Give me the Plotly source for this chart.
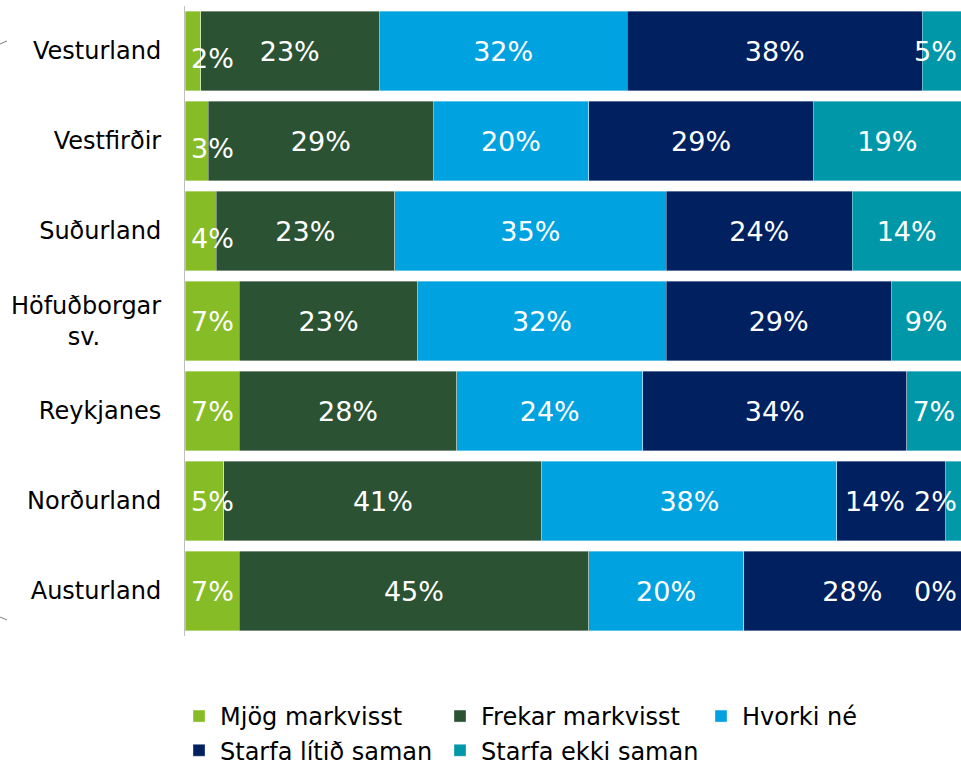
import plotly.graph_objects as go

regions = ["Vesturland", "Vestfirðir", "Suðurland", "Höfuðborgar<br>sv.\u00a0\u00a0\u00a0\u00a0\u00a0\u00a0\u00a0\u00a0",
           "Reykjanes", "Norðurland", "Austurland"]
series_names = ["Mjög markvisst", "Frekar markvisst", "Hvorki né", "Starfa lítið saman", "Starfa ekki saman"]
mjog = [2, 3, 4, 7, 7, 5, 7]
frekar = [23, 29, 23, 23, 28, 41, 45]
hvorki = [32, 20, 35, 32, 24, 38, 20]
litid = [38, 29, 24, 29, 34, 14, 28]
ekki = [5, 19, 14, 9, 7, 2, 0]
colors = ["#86bc25", "#2c5234", "#00a3e0", "#002060", "#0097a9"]

FONT = "DejaVu Sans"
LABEL = dict(family=FONT, size=27, color="white")

fig = go.Figure()
all_vals = [mjog, frekar, hvorki, litid, ekki]
for i, (name, vals, col) in enumerate(zip(series_names, all_vals, colors)):
    pos = []
    for j, v in enumerate(vals):
        if i == 0:
            pos.append("none")          # drawn as annotations so they sit on top of the next segment
        elif i == 4 and v < 6:
            pos.append("none")          # pinned to the right edge
        elif i == 3 and ekki[j] < 6 and v < 20:
            pos.append("none")          # nudged left to make room for the pinned label
        else:
            pos.append("inside")
    fig.add_trace(go.Bar(
        y=regions, x=vals, name=name, orientation="h",
        marker=dict(color=col, line=dict(color="rgba(255,255,255,0.6)", width=0.6)),
        text=[f"{v}%" for v in vals], textposition=pos, textangle=0, insidetextanchor="middle",
        constraintext="none", cliponaxis=False, textfont=LABEL, hoverinfo="skip",
    ))

totals = [a + b + c + d + e for a, b, c, d, e in zip(*all_vals)]
for j, r in enumerate(regions):
    v = mjog[j]
    fig.add_annotation(x=0, y=r, text=f"{v}%", showarrow=False, xanchor="left", xshift=4,
                       yshift=-7 if v < 5 else 0, font=LABEL)
    if ekki[j] < 6:
        fig.add_annotation(x=totals[j], y=r, text=f"{ekki[j]}%", showarrow=False, xanchor="right",
                           xshift=-2, font=LABEL)
        if litid[j] < 20:
            start = totals[j] - ekki[j] - litid[j]
            fig.add_annotation(x=start + litid[j] / 2, y=r, text=f"{litid[j]}%", showarrow=False,
                               xshift=-16, font=LABEL)

# little grey marks at the left edge
for y0, y1 in [(44, 41), (617, 620)]:
    fig.add_shape(type="line", xref="paper", yref="paper",
                  x0=-185 / 776, x1=-178 / 776, y0=(636 - y0) / 630, y1=(636 - y1) / 630,
                  line=dict(color="#808080", width=1))

fig.update_layout(
    barmode="stack", bargap=0.12, width=961, height=765,
    margin=dict(l=185, r=0, t=6, b=129, autoexpand=False),
    paper_bgcolor="white", plot_bgcolor="white",
    font=dict(family=FONT, size=24, color="black"),
    xaxis=dict(range=[0, 100], visible=False, fixedrange=True),
    yaxis=dict(autorange="reversed", showline=True, linecolor="#bfbfbf", linewidth=1, fixedrange=True,
               ticks="", ticklabelstandoff=18, tickfont=dict(family=FONT, size=24, color="black")),
    legend=dict(orientation="h", x=-0.009, xanchor="left", y=-0.092, yanchor="top",
                entrywidth=214, itemwidth=32, traceorder="normal", font=dict(family=FONT, size=24),
                tracegroupgap=0),
    showlegend=True,
)

fig.write_html("out.html", config={"displayModeBar": False},
               post_script="document.body.style.margin='0';")
